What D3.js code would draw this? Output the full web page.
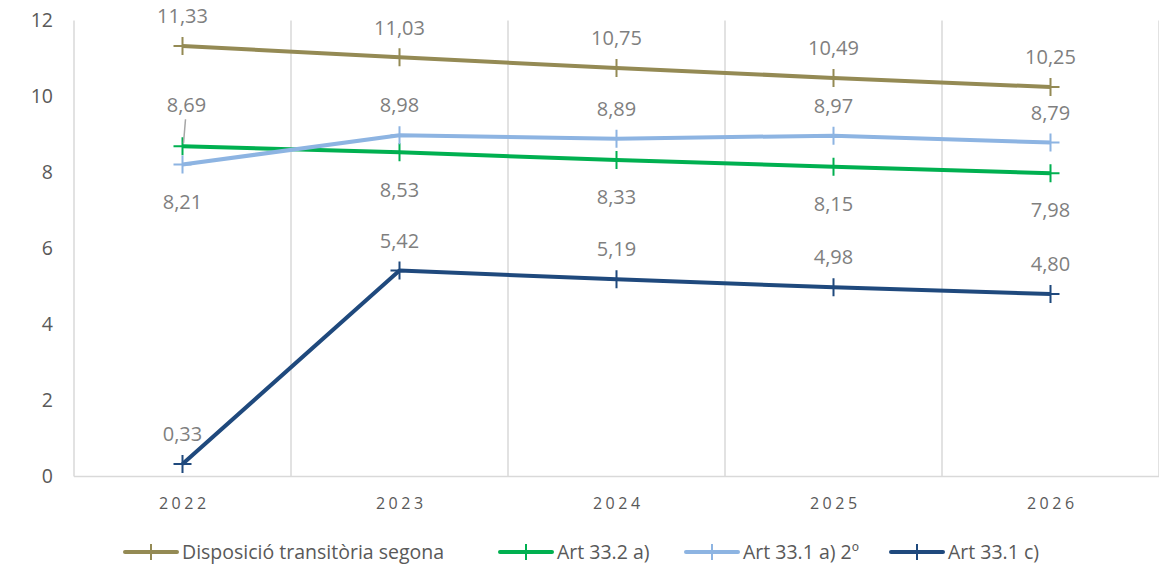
<!DOCTYPE html>
<html><head><meta charset="utf-8">
<script src="https://cdn.jsdelivr.net/npm/d3@7"></script>
<style>body{margin:0;background:#fff;} svg{display:block;}</style>
</head><body>
<svg id="chart" width="1159" height="572"></svg>
<script>
const years = ["2022","2023","2024","2025","2026"];
const seriesNames = ["Disposició transitòria segona","Art 33.2 a)","Art 33.1 a) 2º","Art 33.1 c)"];
const dispSegona = [11.33,11.03,10.75,10.49,10.25];
const art332a = [8.69,8.53,8.33,8.15,7.98];
const art331a2 = [8.21,8.98,8.89,8.97,8.79];
const art331c = [0.33,5.42,5.19,4.98,4.80];
const yTicks = [0,2,4,6,8,10,12];

const colors = ["#948A54","#00B050","#8DB4E2","#1F497D"];
const placement = [
  ["above","above","above","above","above"],
  ["leader","below","below","below","below"],
  ["below","above","above","above","above"],
  ["above","above","above","above","above"]
];
const allValues = [dispSegona, art332a, art331a2, art331c];

const svg = d3.select("#chart");
const font = "'Open Sans', sans-serif";
const x = d3.scaleBand().domain(years).range([74,1159]);
const y = d3.scaleLinear().domain([0,12]).range([476.5,20.5]);

const bounds = d3.range(years.length+1).map(i => 74 + i*x.bandwidth());
svg.append("g").selectAll("line").data(bounds).join("line")
  .attr("x1",d=>d).attr("x2",d=>d).attr("y1",y(12)).attr("y2",y(0))
  .attr("stroke","#D9D9D9").attr("stroke-width",1.5);
svg.append("line").attr("x1",74).attr("x2",1159).attr("y1",y(0)).attr("y2",y(0))
  .attr("stroke","#D9D9D9").attr("stroke-width",1.5);

const yAxis = d3.axisLeft(y).tickValues(yTicks).tickSize(0).tickPadding(0);
const gy = svg.append("g").attr("transform","translate(53,0)").call(yAxis);
gy.select(".domain").remove();
gy.selectAll("text").attr("font-family",font).attr("font-size",19.5).attr("fill","#595959");

const xAxis = d3.axisBottom(x).tickSize(0).tickPadding(0);
const gx = svg.append("g").attr("transform","translate(0,498)").call(xAxis);
gx.select(".domain").remove();
gx.selectAll("text").attr("font-family",font).attr("font-size",16).attr("fill","#595959")
  .attr("letter-spacing","3.5px").attr("dy","0.71em").attr("dx","1.75px");

const cx = d => x(d) + x.bandwidth()/2;
const line = d3.line().x((d,i)=>cx(years[i])).y(d=>y(d));
const fmt = v => v.toFixed(2).replace(".",",");

allValues.forEach((vals,si) => {
  const g = svg.append("g");
  g.append("path").datum(vals).attr("d",line).attr("fill","none")
    .attr("stroke",colors[si]).attr("stroke-width",4).attr("stroke-linejoin","round");
  g.selectAll("path.m").data(vals).join("path").attr("class","m")
    .attr("d",(d,i)=>{const px=cx(years[i]), py=y(d); return `M${px-9},${py}H${px+9}M${px},${py-9}V${py+9}`;})
    .attr("stroke",colors[si]).attr("stroke-width",2).attr("fill","none");
});

allValues.forEach((vals,si) => {
  const g = svg.append("g");
  vals.forEach((v,i) => {
    const p = placement[si][i];
    const px = cx(years[i]), py = y(v);
    let ly;
    if (p === "above") ly = py - 30;
    else if (p === "below") ly = py + 37;
    else { ly = py - 41;
      g.append("line").attr("x1",px+1).attr("y1",py-3).attr("x2",px+3).attr("y2",py-27)
        .attr("stroke","#A6A6A6").attr("stroke-width",1.5);
    }
    g.append("text").attr("x", p==="leader" ? px+4 : px).attr("y",ly).attr("dy","0.36em")
      .attr("text-anchor","middle").attr("font-family",font).attr("font-size",20)
      .attr("fill","#7F7F7F").text(fmt(v));
  });
});

const legendX = [125,500,686,891];
const lg = svg.append("g");
seriesNames.forEach((n,i) => {
  const lx = legendX[i], ly = 552;
  lg.append("line").attr("x1",lx).attr("x2",lx+52).attr("y1",ly).attr("y2",ly)
    .attr("stroke",colors[i]).attr("stroke-width",4).attr("stroke-linecap","round");
  lg.append("path").attr("d",`M${lx+26},${ly-8}V${ly+8}`).attr("stroke",colors[i]).attr("stroke-width",2);
  lg.append("text").attr("x",lx+57).attr("y",ly).attr("dy","0.36em")
    .attr("font-family",font).attr("font-size",19.5).attr("fill","#595959").text(n);
});
</script>
</body></html>
